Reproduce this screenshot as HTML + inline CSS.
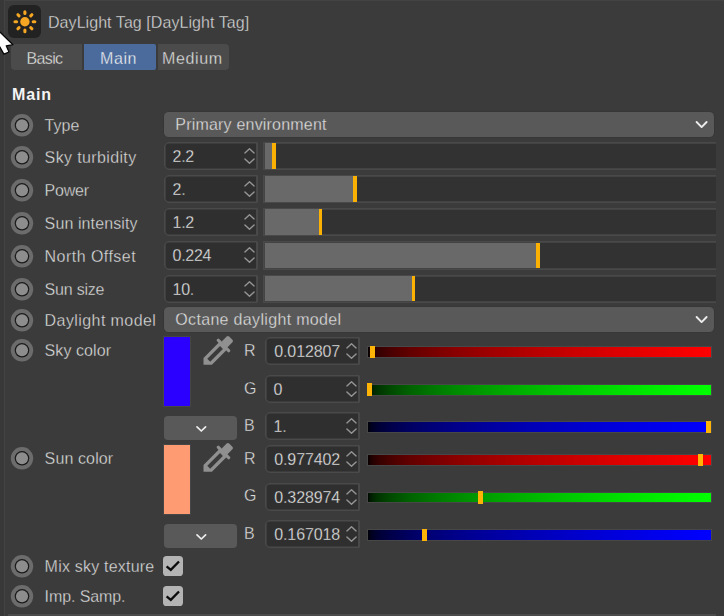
<!DOCTYPE html>
<html><head><meta charset="utf-8"><title>DayLight Tag</title>
<style>
html,body{margin:0;padding:0;}
body{width:724px;height:616px;overflow:hidden;background:#3b3b3b;position:relative;font-family:"Liberation Sans",sans-serif;font-size:16px;color:#dedede;}
.a{position:absolute;}
.t{position:absolute;white-space:nowrap;line-height:20px;height:20px;-webkit-text-stroke:0.3px #3b3b3b;}
.tab{position:absolute;top:44px;height:26px;background:#4b4b4b;text-align:center;line-height:27px;color:#dcdcdc;}
.rad{position:absolute;left:0;width:44px;height:30px;}
.dd{position:absolute;left:163.7px;width:550.3px;height:25.5px;border-radius:4.5px;background:#595959;box-shadow:0 0 0 0.6px #353535;}
.dd span{-webkit-text-stroke:0.3px #595959;position:absolute;left:11.6px;top:3.6px;line-height:20px;color:#e2e2e2;}
.nf{position:absolute;height:26.2px;background:#2f2f2f;border:1px solid #4a4a4a;border-radius:5px 1px 1px 5px;box-shadow:inset 0 0 0 0.6px #4a4a4a,inset -0.9px 0 0 0 #4a4a4a;}
.nf span{-webkit-text-stroke:0.3px #2f2f2f;position:absolute;left:7.6px;top:4px;line-height:20px;color:#ebebeb;letter-spacing:-0.3px;}
.nf svg{position:absolute;right:1px;top:0;}
.sl{position:absolute;left:263px;width:451.6px;height:26.2px;background:#323232;border:1px solid #494949;border-right:none;box-shadow:inset 0.8px 0 0 0 #494949,inset 0 0.8px 0 0 #494949,inset 0 -0.8px 0 0 #494949;}
.sl i{position:absolute;left:1px;top:0.2px;height:25.6px;background:#696969;}
.sl b{position:absolute;top:0.2px;height:25.6px;width:4px;background:#fbb004;}
.cs{position:absolute;left:367px;width:342.5px;height:9.6px;border:1px solid #474747;}
.ch{position:absolute;width:5.2px;height:12.8px;background:#fdb406;}
.sdd{position:absolute;left:164.2px;width:72.4px;height:24px;border-radius:4px;background:#595959;}
.cb{position:absolute;left:163px;width:20.2px;height:20.2px;border-radius:3.6px;background:#b4b4b4;}
</style></head><body>

<div class="a" style="left:0;top:0;width:4px;height:616px;background:#383838"></div>
<div class="a" style="left:4px;top:0;width:1px;height:616px;background:#434343"></div>
<div class="a" style="left:4px;top:0;width:720px;height:1px;background:#434343"></div>
<div class="a" style="left:8px;top:614px;width:708px;height:2px;background:#4a4a4a"></div>
<div class="a" style="left:8px;top:5px;width:33px;height:33px;border-radius:6px;background:#222222"></div>
<svg class="a" style="left:0;top:0" width="48" height="44"><circle cx="24.9" cy="21.75" r="4.7" fill="#f5a623"/><g stroke="#f5a623" stroke-width="3.1" stroke-linecap="round"><line x1="24.90" y1="13.45" x2="24.90" y2="11.85"/><line x1="30.77" y1="15.88" x2="31.90" y2="14.75"/><line x1="33.20" y1="21.75" x2="34.80" y2="21.75"/><line x1="30.77" y1="27.62" x2="31.90" y2="28.75"/><line x1="24.90" y1="30.05" x2="24.90" y2="31.65"/><line x1="19.03" y1="27.62" x2="17.90" y2="28.75"/><line x1="16.60" y1="21.75" x2="15.00" y2="21.75"/><line x1="19.03" y1="15.88" x2="17.90" y2="14.75"/></g></svg>
<div class="t" style="left:48px;top:13px;color:#dcdcdc;letter-spacing:0.06px">DayLight Tag [DayLight Tag]</div>
<div class="tab" style="left:11px;width:71px;border-radius:4px 0 0 4px"></div>
<div class="tab" style="left:84px;width:72px;background:#4a6b9c;border-radius:0 2px 2px 0"></div>
<div class="tab" style="left:158px;width:71px;border-radius:0 4px 4px 0"></div>
<div class="t" style="left:26.4px;top:49px;color:#e4e4e4;-webkit-text-stroke-color:#4b4b4b;letter-spacing:-0.6px">Basic</div>
<div class="t" style="left:100px;top:49px;color:#f6f6f6;-webkit-text-stroke-color:#4a6b9c;letter-spacing:0.6px">Main</div>
<div class="t" style="left:162px;top:49px;color:#e4e4e4;-webkit-text-stroke-color:#4b4b4b;letter-spacing:0.64px">Medium</div>
<div class="t" style="left:12px;top:84.7px;font-weight:bold;color:#f4f4f4;letter-spacing:0.85px;-webkit-text-stroke:0">Main</div>
<svg class="rad" style="top:110px" width="44" height="30"><circle cx="22" cy="15.3" r="11.2" fill="#6c6c6c"/><circle cx="22" cy="15.3" r="7.3" fill="#1a1a1a"/><circle cx="22" cy="15.3" r="6.05" fill="#8d8d8d"/></svg>
<div class="t" style="left:44.6px;top:116px;letter-spacing:0px">Type</div>
<div class="dd" style="top:111.7px"><span style="letter-spacing:0.2px">Primary environment</span><svg class="a" style="right:6px;top:8px" width="14" height="10"><path d="M2.6 2 L7.6 7.1 L12.6 2" fill="none" stroke="#ececec" stroke-width="1.9" stroke-linecap="round" stroke-linejoin="round"/></svg></div>
<svg class="rad" style="top:141.9px" width="44" height="30"><circle cx="22" cy="15.3" r="11.2" fill="#6c6c6c"/><circle cx="22" cy="15.3" r="7.3" fill="#1a1a1a"/><circle cx="22" cy="15.3" r="6.05" fill="#8d8d8d"/></svg>
<div class="t" style="left:44.6px;top:148px;letter-spacing:0.37px">Sky turbidity</div>
<div class="nf" style="left:164px;top:142.0px;width:92px"><span style="letter-spacing:-0.3px">2.2</span><svg width="14" height="26"><path d="M2.9 9.9 L7.5 5.7 L12.1 9.9 M2.9 15.9 L7.5 20.3 L12.1 15.9" fill="none" stroke="#969696" stroke-width="1.4" stroke-linecap="round" stroke-linejoin="round"/></svg></div>
<div class="sl" style="top:142.0px"><i style="width:7px"></i><b style="left:8px;width:4px"></b></div>
<svg class="rad" style="top:175.03px" width="44" height="30"><circle cx="22" cy="15.3" r="11.2" fill="#6c6c6c"/><circle cx="22" cy="15.3" r="7.3" fill="#1a1a1a"/><circle cx="22" cy="15.3" r="6.05" fill="#8d8d8d"/></svg>
<div class="t" style="left:44.6px;top:181px;letter-spacing:-0.2px">Power</div>
<div class="nf" style="left:164px;top:175.13px;width:92px"><span style="letter-spacing:-0.3px">2.</span><svg width="14" height="26"><path d="M2.9 9.9 L7.5 5.7 L12.1 9.9 M2.9 15.9 L7.5 20.3 L12.1 15.9" fill="none" stroke="#969696" stroke-width="1.4" stroke-linecap="round" stroke-linejoin="round"/></svg></div>
<div class="sl" style="top:175.13px"><i style="width:88px"></i><b style="left:89px;width:4px"></b></div>
<svg class="rad" style="top:208.16px" width="44" height="30"><circle cx="22" cy="15.3" r="11.2" fill="#6c6c6c"/><circle cx="22" cy="15.3" r="7.3" fill="#1a1a1a"/><circle cx="22" cy="15.3" r="6.05" fill="#8d8d8d"/></svg>
<div class="t" style="left:44.6px;top:214px;letter-spacing:0.11px">Sun intensity</div>
<div class="nf" style="left:164px;top:208.26px;width:92px"><span style="letter-spacing:-0.3px">1.2</span><svg width="14" height="26"><path d="M2.9 9.9 L7.5 5.7 L12.1 9.9 M2.9 15.9 L7.5 20.3 L12.1 15.9" fill="none" stroke="#969696" stroke-width="1.4" stroke-linecap="round" stroke-linejoin="round"/></svg></div>
<div class="sl" style="top:208.26px"><i style="width:54px"></i><b style="left:55px;width:3px"></b></div>
<svg class="rad" style="top:241.28999999999996px" width="44" height="30"><circle cx="22" cy="15.3" r="11.2" fill="#6c6c6c"/><circle cx="22" cy="15.3" r="7.3" fill="#1a1a1a"/><circle cx="22" cy="15.3" r="6.05" fill="#8d8d8d"/></svg>
<div class="t" style="left:44.6px;top:247px;letter-spacing:0.46px">North Offset</div>
<div class="nf" style="left:164px;top:241.39px;width:92px"><span style="letter-spacing:-0.3px">0.224</span><svg width="14" height="26"><path d="M2.9 9.9 L7.5 5.7 L12.1 9.9 M2.9 15.9 L7.5 20.3 L12.1 15.9" fill="none" stroke="#969696" stroke-width="1.4" stroke-linecap="round" stroke-linejoin="round"/></svg></div>
<div class="sl" style="top:241.39px"><i style="width:271px"></i><b style="left:272px;width:4px"></b></div>
<svg class="rad" style="top:274.41999999999996px" width="44" height="30"><circle cx="22" cy="15.3" r="11.2" fill="#6c6c6c"/><circle cx="22" cy="15.3" r="7.3" fill="#1a1a1a"/><circle cx="22" cy="15.3" r="6.05" fill="#8d8d8d"/></svg>
<div class="t" style="left:44.6px;top:280px;letter-spacing:-0.21px">Sun size</div>
<div class="nf" style="left:164px;top:274.52px;width:92px"><span style="letter-spacing:-0.3px">10.</span><svg width="14" height="26"><path d="M2.9 9.9 L7.5 5.7 L12.1 9.9 M2.9 15.9 L7.5 20.3 L12.1 15.9" fill="none" stroke="#969696" stroke-width="1.4" stroke-linecap="round" stroke-linejoin="round"/></svg></div>
<div class="sl" style="top:274.52px"><i style="width:147px"></i><b style="left:148px;width:3px"></b></div>
<svg class="rad" style="top:305px" width="44" height="30"><circle cx="22" cy="15.3" r="11.2" fill="#6c6c6c"/><circle cx="22" cy="15.3" r="7.3" fill="#1a1a1a"/><circle cx="22" cy="15.3" r="6.05" fill="#8d8d8d"/></svg>
<div class="t" style="left:44.6px;top:311px;letter-spacing:0.42px">Daylight model</div>
<div class="dd" style="top:306.9px"><span style="letter-spacing:0.33px">Octane daylight model</span><svg class="a" style="right:6px;top:8px" width="14" height="10"><path d="M2.6 2 L7.6 7.1 L12.6 2" fill="none" stroke="#ececec" stroke-width="1.9" stroke-linecap="round" stroke-linejoin="round"/></svg></div>
<svg class="rad" style="top:335px" width="44" height="30"><circle cx="22" cy="15.3" r="11.2" fill="#6c6c6c"/><circle cx="22" cy="15.3" r="7.3" fill="#1a1a1a"/><circle cx="22" cy="15.3" r="6.05" fill="#8d8d8d"/></svg>
<div class="t" style="left:44.6px;top:341px;letter-spacing:0.08px">Sky color</div>
<div class="a" style="left:164px;top:336.7px;width:26.4px;height:69.3px;background:#2b00ff;box-shadow:0 0 0 0.7px #4c4c4c"></div>
<svg class="a" style="left:196px;top:330px" width="48" height="42" viewBox="0 0 48 42"><g transform="matrix(0.70711,0.70711,0.70711,-0.70711,0,0)" fill="#909090"><path fill-rule="evenodd" d="M25.05 7.6 L25.05 -14.45 L29.9 -19.28 L35.75 -13.26 L35.75 7.6 Z M28.35 -12.39 L28.35 5.64 L32.45 5.64 L32.45 -12.39 Z"/><rect x="21.5" y="6.95" width="17.8" height="3.1" rx="1.3"/><rect x="26.3" y="9.3" width="8.2" height="9.5" rx="1.8"/></g></svg>
<div class="sdd" style="top:416px"><svg class="a" style="left:31px;top:9px" width="12" height="8"><path d="M2 1.8 L6.3 6 L10.6 1.8" fill="none" stroke="#eeeeee" stroke-width="1.7" stroke-linecap="round" stroke-linejoin="round"/></svg></div>
<div class="t" style="left:244px;top:340.5px">R</div>
<div class="nf" style="left:265px;top:337px;width:93px"><span style="left:8.2px;letter-spacing:-0.1px">0.012807</span><svg width="14" height="26"><path d="M2.9 9.9 L7.5 5.7 L12.1 9.9 M2.9 15.9 L7.5 20.3 L12.1 15.9" fill="none" stroke="#969696" stroke-width="1.4" stroke-linecap="round" stroke-linejoin="round"/></svg></div>
<div class="cs" style="top:346px;background:linear-gradient(to right,rgb(0,0,0) 0.00%,rgb(18,0,0) 0.30%,rgb(28,0,0) 0.80%,rgb(39,0,0) 1.60%,rgb(52,0,0) 3.00%,rgb(72,0,0) 6.25%,rgb(99,0,0) 12.50%,rgb(119,0,0) 18.75%,rgb(136,0,0) 25.00%,rgb(150,0,0) 31.25%,rgb(163,0,0) 37.50%,rgb(175,0,0) 43.75%,rgb(186,0,0) 50.00%,rgb(196,0,0) 56.25%,rgb(206,0,0) 62.50%,rgb(215,0,0) 68.75%,rgb(224,0,0) 75.00%,rgb(232,0,0) 81.25%,rgb(240,0,0) 87.50%,rgb(248,0,0) 93.75%,rgb(255,0,0) 100.00%)"></div>
<div class="ch" style="left:369.9px;top:346px;height:12.2px"></div>
<div class="t" style="left:244px;top:378.5px">G</div>
<div class="nf" style="left:265px;top:375px;width:93px"><span style="letter-spacing:-0.3px">0</span><svg width="14" height="26"><path d="M2.9 9.9 L7.5 5.7 L12.1 9.9 M2.9 15.9 L7.5 20.3 L12.1 15.9" fill="none" stroke="#969696" stroke-width="1.4" stroke-linecap="round" stroke-linejoin="round"/></svg></div>
<div class="cs" style="top:384px;background:linear-gradient(to right,rgb(0,0,0) 0.00%,rgb(0,18,0) 0.30%,rgb(0,28,0) 0.80%,rgb(0,39,0) 1.60%,rgb(0,52,0) 3.00%,rgb(0,72,0) 6.25%,rgb(0,99,0) 12.50%,rgb(0,119,0) 18.75%,rgb(0,136,0) 25.00%,rgb(0,150,0) 31.25%,rgb(0,163,0) 37.50%,rgb(0,175,0) 43.75%,rgb(0,186,0) 50.00%,rgb(0,196,0) 56.25%,rgb(0,206,0) 62.50%,rgb(0,215,0) 68.75%,rgb(0,224,0) 75.00%,rgb(0,232,0) 81.25%,rgb(0,240,0) 87.50%,rgb(0,248,0) 93.75%,rgb(0,255,0) 100.00%)"></div>
<div class="ch" style="left:366.8px;top:383px;height:13px"></div>
<div class="t" style="left:244px;top:415.5px">B</div>
<div class="nf" style="left:265px;top:412px;width:93px"><span style="letter-spacing:-0.3px">1.</span><svg width="14" height="26"><path d="M2.9 9.9 L7.5 5.7 L12.1 9.9 M2.9 15.9 L7.5 20.3 L12.1 15.9" fill="none" stroke="#969696" stroke-width="1.4" stroke-linecap="round" stroke-linejoin="round"/></svg></div>
<div class="cs" style="top:421px;background:linear-gradient(to right,rgb(0,0,0) 0.00%,rgb(0,0,18) 0.30%,rgb(0,0,28) 0.80%,rgb(0,0,39) 1.60%,rgb(0,0,52) 3.00%,rgb(0,0,72) 6.25%,rgb(0,0,99) 12.50%,rgb(0,0,119) 18.75%,rgb(0,0,136) 25.00%,rgb(0,0,150) 31.25%,rgb(0,0,163) 37.50%,rgb(0,0,175) 43.75%,rgb(0,0,186) 50.00%,rgb(0,0,196) 56.25%,rgb(0,0,206) 62.50%,rgb(0,0,215) 68.75%,rgb(0,0,224) 75.00%,rgb(0,0,232) 81.25%,rgb(0,0,240) 87.50%,rgb(0,0,248) 93.75%,rgb(0,0,255) 100.00%)"></div>
<div class="ch" style="left:706.3px;top:421px;height:12.2px"></div>
<svg class="rad" style="top:443px" width="44" height="30"><circle cx="22" cy="15.3" r="11.2" fill="#6c6c6c"/><circle cx="22" cy="15.3" r="7.3" fill="#1a1a1a"/><circle cx="22" cy="15.3" r="6.05" fill="#8d8d8d"/></svg>
<div class="t" style="left:44.6px;top:449px;letter-spacing:0.12px">Sun color</div>
<div class="a" style="left:164px;top:445.0px;width:26.4px;height:69.2px;background:#ff9b72;box-shadow:0 0 0 0.7px #4c4c4c"></div>
<svg class="a" style="left:196px;top:437.3px" width="48" height="42" viewBox="0 0 48 42"><g transform="matrix(0.70711,0.70711,0.70711,-0.70711,0,0)" fill="#909090"><path fill-rule="evenodd" d="M25.05 7.6 L25.05 -14.45 L29.9 -19.28 L35.75 -13.26 L35.75 7.6 Z M28.35 -12.39 L28.35 5.64 L32.45 5.64 L32.45 -12.39 Z"/><rect x="21.5" y="6.95" width="17.8" height="3.1" rx="1.3"/><rect x="26.3" y="9.3" width="8.2" height="9.5" rx="1.8"/></g></svg>
<div class="sdd" style="top:524px"><svg class="a" style="left:31px;top:9px" width="12" height="8"><path d="M2 1.8 L6.3 6 L10.6 1.8" fill="none" stroke="#eeeeee" stroke-width="1.7" stroke-linecap="round" stroke-linejoin="round"/></svg></div>
<div class="t" style="left:244px;top:448.5px">R</div>
<div class="nf" style="left:265px;top:445px;width:93px"><span style="left:8.2px;letter-spacing:-0.1px">0.977402</span><svg width="14" height="26"><path d="M2.9 9.9 L7.5 5.7 L12.1 9.9 M2.9 15.9 L7.5 20.3 L12.1 15.9" fill="none" stroke="#969696" stroke-width="1.4" stroke-linecap="round" stroke-linejoin="round"/></svg></div>
<div class="cs" style="top:454px;background:linear-gradient(to right,rgb(0,0,0) 0.00%,rgb(18,0,0) 0.30%,rgb(28,0,0) 0.80%,rgb(39,0,0) 1.60%,rgb(52,0,0) 3.00%,rgb(72,0,0) 6.25%,rgb(99,0,0) 12.50%,rgb(119,0,0) 18.75%,rgb(136,0,0) 25.00%,rgb(150,0,0) 31.25%,rgb(163,0,0) 37.50%,rgb(175,0,0) 43.75%,rgb(186,0,0) 50.00%,rgb(196,0,0) 56.25%,rgb(206,0,0) 62.50%,rgb(215,0,0) 68.75%,rgb(224,0,0) 75.00%,rgb(232,0,0) 81.25%,rgb(240,0,0) 87.50%,rgb(248,0,0) 93.75%,rgb(255,0,0) 100.00%)"></div>
<div class="ch" style="left:697.6px;top:454px;height:12.2px"></div>
<div class="t" style="left:244px;top:486.2px">G</div>
<div class="nf" style="left:265px;top:482.7px;width:93px"><span style="left:8.2px;letter-spacing:-0.1px">0.328974</span><svg width="14" height="26"><path d="M2.9 9.9 L7.5 5.7 L12.1 9.9 M2.9 15.9 L7.5 20.3 L12.1 15.9" fill="none" stroke="#969696" stroke-width="1.4" stroke-linecap="round" stroke-linejoin="round"/></svg></div>
<div class="cs" style="top:491.7px;background:linear-gradient(to right,rgb(0,0,0) 0.00%,rgb(0,18,0) 0.30%,rgb(0,28,0) 0.80%,rgb(0,39,0) 1.60%,rgb(0,52,0) 3.00%,rgb(0,72,0) 6.25%,rgb(0,99,0) 12.50%,rgb(0,119,0) 18.75%,rgb(0,136,0) 25.00%,rgb(0,150,0) 31.25%,rgb(0,163,0) 37.50%,rgb(0,175,0) 43.75%,rgb(0,186,0) 50.00%,rgb(0,196,0) 56.25%,rgb(0,206,0) 62.50%,rgb(0,215,0) 68.75%,rgb(0,224,0) 75.00%,rgb(0,232,0) 81.25%,rgb(0,240,0) 87.50%,rgb(0,248,0) 93.75%,rgb(0,255,0) 100.00%)"></div>
<div class="ch" style="left:477.9px;top:490.7px;height:13px"></div>
<div class="t" style="left:244px;top:523.5px">B</div>
<div class="nf" style="left:265px;top:520px;width:93px"><span style="left:8.2px;letter-spacing:-0.1px">0.167018</span><svg width="14" height="26"><path d="M2.9 9.9 L7.5 5.7 L12.1 9.9 M2.9 15.9 L7.5 20.3 L12.1 15.9" fill="none" stroke="#969696" stroke-width="1.4" stroke-linecap="round" stroke-linejoin="round"/></svg></div>
<div class="cs" style="top:529px;background:linear-gradient(to right,rgb(0,0,0) 0.00%,rgb(0,0,18) 0.30%,rgb(0,0,28) 0.80%,rgb(0,0,39) 1.60%,rgb(0,0,52) 3.00%,rgb(0,0,72) 6.25%,rgb(0,0,99) 12.50%,rgb(0,0,119) 18.75%,rgb(0,0,136) 25.00%,rgb(0,0,150) 31.25%,rgb(0,0,163) 37.50%,rgb(0,0,175) 43.75%,rgb(0,0,186) 50.00%,rgb(0,0,196) 56.25%,rgb(0,0,206) 62.50%,rgb(0,0,215) 68.75%,rgb(0,0,224) 75.00%,rgb(0,0,232) 81.25%,rgb(0,0,240) 87.50%,rgb(0,0,248) 93.75%,rgb(0,0,255) 100.00%)"></div>
<div class="ch" style="left:421.9px;top:529px;height:12.2px"></div>
<svg class="rad" style="top:551.2px" width="44" height="30"><circle cx="22" cy="15.3" r="11.2" fill="#6c6c6c"/><circle cx="22" cy="15.3" r="7.3" fill="#1a1a1a"/><circle cx="22" cy="15.3" r="6.05" fill="#8d8d8d"/></svg>
<div class="t" style="left:44.6px;top:557px;letter-spacing:0.21px">Mix sky texture</div>
<div class="cb" style="top:555.8px"><svg class="a" style="left:0;top:0" width="21" height="21"><path d="M3.6 10.3 L7.8 13.9 L16 5.5" fill="none" stroke="#0c0c0c" stroke-width="2.3" stroke-linecap="butt" stroke-linejoin="miter"/></svg></div>
<svg class="rad" style="top:581.3px" width="44" height="30"><circle cx="22" cy="15.3" r="11.2" fill="#6c6c6c"/><circle cx="22" cy="15.3" r="7.3" fill="#1a1a1a"/><circle cx="22" cy="15.3" r="6.05" fill="#8d8d8d"/></svg>
<div class="t" style="left:44.6px;top:587px;letter-spacing:-0.1px">Imp. Samp.</div>
<div class="cb" style="top:585.8px"><svg class="a" style="left:0;top:0" width="21" height="21"><path d="M3.6 10.3 L7.8 13.9 L16 5.5" fill="none" stroke="#0c0c0c" stroke-width="2.3" stroke-linecap="butt" stroke-linejoin="miter"/></svg></div>
<svg class="a" style="left:0;top:28px" width="16" height="30"><path d="M-4 0.3 L12.9 16.7 L6.2 17.8 L9.0 24.0 L3.9 26.1 L-1.6 16.4 L-4 19 Z" fill="#ffffff" stroke="#050505" stroke-width="1.2" stroke-linejoin="round"/></svg>
</body></html>
